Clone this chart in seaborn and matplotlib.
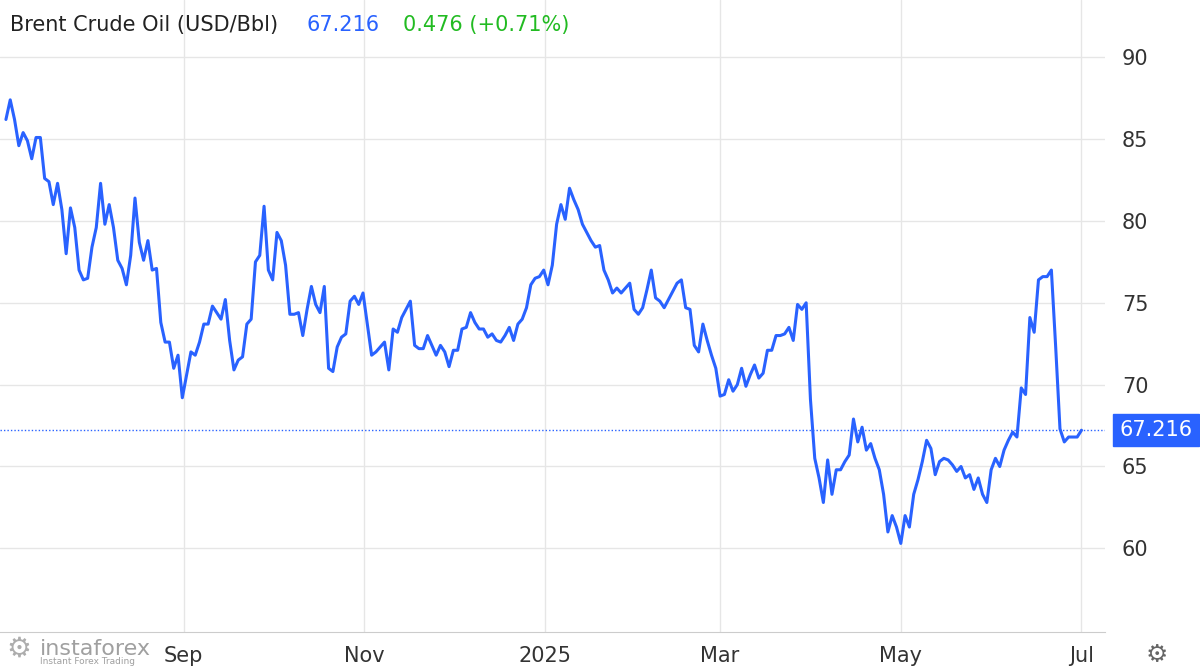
import matplotlib
matplotlib.use("Agg")
import matplotlib.pyplot as plt
import seaborn as sns
import pandas as pd

values = [86.2,87.4,86.2,84.6,85.4,84.9,83.8,85.1,85.1,82.6,82.4,81.0,82.3,80.7,78.0,80.8,79.6,77.0,76.4,76.5,
78.4,79.6,82.3,79.8,81.0,79.6,77.6,77.1,76.1,77.9,81.4,78.7,77.6,78.8,77.0,77.1,73.8,72.6,72.6,71.0,
71.8,69.2,70.6,72.0,71.8,72.6,73.7,73.7,74.8,74.4,74.0,75.2,72.7,70.9,71.5,71.7,73.7,74.0,77.5,77.9,
80.9,77.0,76.4,79.3,78.8,77.3,74.3,74.3,74.4,73.0,74.6,76.0,74.9,74.4,76.0,71.0,70.8,72.3,72.9,73.1,
75.1,75.4,74.9,75.6,73.7,71.8,72.0,72.3,72.6,70.9,73.4,73.2,74.1,74.6,75.1,72.4,72.2,72.2,73.0,72.4,
71.8,72.4,72.0,71.1,72.1,72.1,73.4,73.5,74.4,73.8,73.4,73.4,72.9,73.1,72.7,72.6,73.0,73.5,72.7,73.7,
74.0,74.7,76.1,76.5,76.6,77.0,76.1,77.3,79.8,81.0,80.1,82.0,81.3,80.7,79.8,79.3,78.8,78.4,78.5,77.0,
76.4,75.6,75.9,75.6,75.9,76.2,74.6,74.3,74.7,75.8,77.0,75.3,75.1,74.7,75.2,75.7,76.2,76.4,74.7,74.6,
72.4,72.0,73.7,72.7,71.8,71.0,69.3,69.4,70.3,69.6,70.0,71.0,69.9,70.6,71.2,70.4,70.7,72.1,72.1,73.0,
73.0,73.1,73.5,72.7,74.9,74.6,75.0,69.1,65.5,64.3,62.8,65.4,63.3,64.8,64.8,65.3,65.7,67.9,66.5,67.4,
66.0,66.4,65.5,64.8,63.3,61.0,62.0,61.3,60.3,62.0,61.3,63.3,64.2,65.3,66.6,66.1,64.5,65.3,65.5,65.4,
65.1,64.7,65.0,64.3,64.5,63.6,64.3,63.3,62.8,64.8,65.5,65.0,66.0,66.6,67.1,66.8,69.8,69.4,74.1,73.2,
76.4,76.6,76.6,77.0,72.3,67.3,66.5,66.8,66.8,66.8,67.216]
last_value = 67.216
change_text = "0.476 (+0.71%)"
title = "Brent Crude Oil (USD/Bbl)"
y_ticks = [60, 65, 70, 75, 80, 85, 90]
x_ticks = ["2024-09-01", "2024-11-01", "2025-01-01", "2025-03-01", "2025-05-01", "2025-07-01"]
x_labels = ["Sep", "Nov", "2025", "Mar", "May", "Jul"]

dates = pd.date_range("2024-07-03", "2025-07-01", periods=len(values))
df = pd.DataFrame({"date": dates, "price": values})

sns.set_style("white")
fig = plt.figure(figsize=(12, 6.7), dpi=100)
ax = fig.add_axes([0.0, 0.057, 0.921, 0.943])
blue = "#2962ff"
sns.lineplot(data=df, x="date", y="price", ax=ax, color=blue, linewidth=2.2)
ax.set_ylim(54.9, 93.5)
ax.set_xlim(pd.Timestamp("2024-07-01"), pd.Timestamp("2025-07-09"))
ax.set_yticks(y_ticks)
ax.yaxis.tick_right()
ax.tick_params(axis="y", length=0, labelsize=15, colors="#333333", pad=12)
ax.set_xticks(pd.to_datetime(x_ticks))
ax.set_xticklabels(x_labels)
ax.tick_params(axis="x", length=0, labelsize=15, colors="#333333", pad=10)
ax.grid(True, color="#e6e6e6", linewidth=1)
ax.set_xlabel(""); ax.set_ylabel("")
for s in ["top", "left", "right"]:
    ax.spines[s].set_visible(False)
ax.spines["bottom"].set_color("#cccccc")
ax.axhline(last_value, color=blue, linestyle=(0, (1, 1.5)), linewidth=1)
ax.text(1.013, last_value, f"{last_value:.3f}", transform=ax.get_yaxis_transform(),
        ha="left", va="center", fontsize=15, color="white",
        bbox=dict(boxstyle="square,pad=0.3", fc=blue, ec=blue))
fig.text(0.008, 0.962, title, fontsize=15, color="#222222", va="center")
fig.text(0.255, 0.962, f"{last_value:.3f}", fontsize=15, color=blue, va="center")
fig.text(0.336, 0.962, change_text, fontsize=15, color="#22bb22", va="center")
fig.text(0.005, 0.032, "⚙", fontsize=20, color="#999999", va="center", alpha=0.8)
fig.text(0.033, 0.032, "instaforex", fontsize=16, color="#888888", va="center", alpha=0.8)
fig.text(0.033, 0.012, "Instant Forex Trading", fontsize=6.5, color="#888888", va="center", alpha=0.8)
fig.text(0.955, 0.022, "⚙", fontsize=18, color="#666666", va="center")
fig.savefig("out.png", dpi=100)
